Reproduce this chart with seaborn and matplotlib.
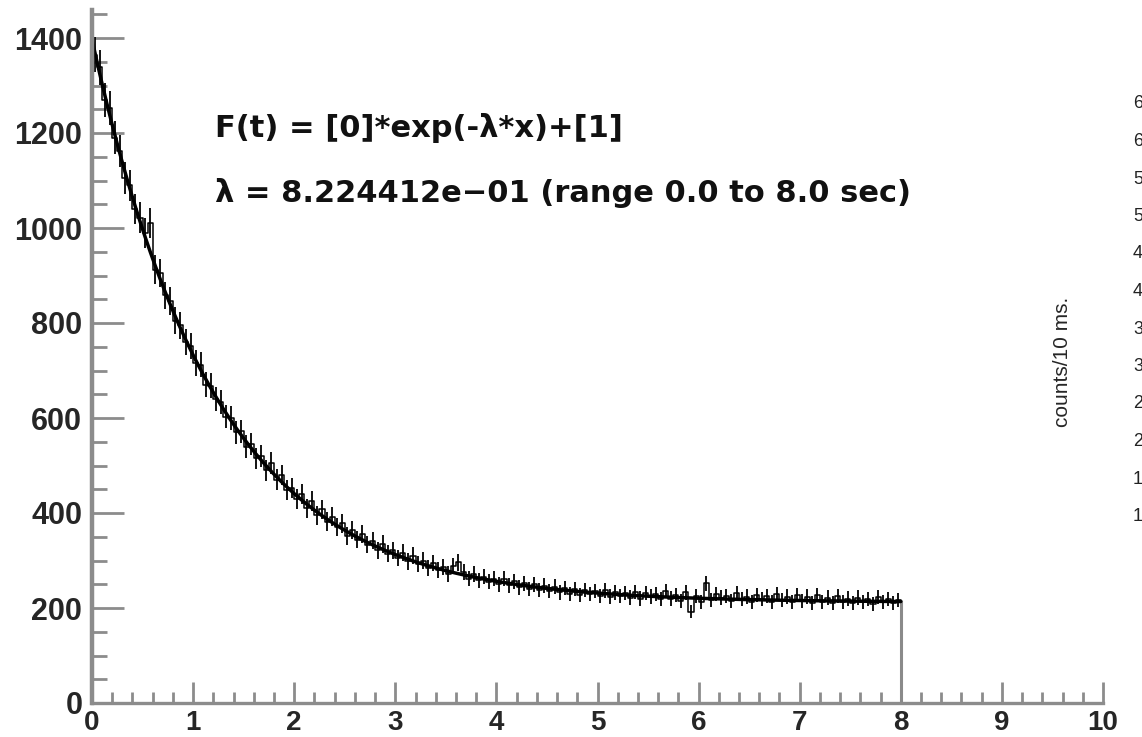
import numpy as np
import pandas as pd
import seaborn as sns
import matplotlib.pyplot as plt
from matplotlib.ticker import MultipleLocator

# Decay histogram: counts per 10 ms, shown in 50 ms steps from 0 to 8 s
bin_width = 0.05
counts = [
    1365, 1338, 1270, 1252, 1190, 1162, 1105, 1090, 1040, 1022,
    990, 1010, 912, 905, 858, 846, 805, 795, 760, 752,
    716, 712, 670, 668, 640, 633, 603, 600, 570, 572,
    540, 545, 515, 520, 490, 505, 470, 480, 448, 452,
    430, 440, 410, 425, 395, 408, 382, 392, 370, 378,
    352, 365, 344, 356, 333, 342, 322, 335, 314, 322,
    305, 316, 298, 310, 292, 300, 285, 294, 280, 287,
    272, 288, 296, 276, 262, 272, 258, 266, 255, 262,
    250, 262, 248, 256, 244, 252, 240, 250, 238, 247,
    236, 245, 233, 242, 230, 240, 228, 238, 229, 236,
    226, 237, 224, 233, 226, 232, 222, 234, 220, 231,
    224, 230, 219, 236, 220, 228, 214, 233, 192, 226,
    212, 252, 216, 230, 222, 225, 214, 232, 218, 224,
    213, 228, 219, 226, 212, 230, 216, 224, 212, 227,
    214, 224, 210, 228, 213, 222, 210, 226, 212, 220,
    210, 222, 212, 219, 209, 223, 213, 218, 210, 216,
]

# Fit F(t) = [0]*exp(-lambda*t) + [1]
lam = 8.224412e-01
amp = 1185.0
offset = 212.0
fit_range = (0.0, 8.0)

x_ticks = list(range(0, 11))
y_ticks = list(range(0, 1401, 200))
side_digits = ["6", "6", "5", "5", "4", "4", "3", "3", "2", "2", "1", "1"]

sns.set_style("ticks")
plt.rcParams["font.family"] = ["Liberation Sans", "DejaVu Sans"]

fig = plt.figure(figsize=(11.42, 7.37), dpi=100)
ax = fig.add_axes([92 / 1142, 1 - 703 / 737, (1103 - 92) / 1142, 693.5 / 737])

counts = np.asarray(counts, dtype=float)
n = len(counts)
edges = np.arange(n + 1) * bin_width
centers = edges[:-1] + bin_width / 2

hist_df = pd.DataFrame({"t": edges, "n": np.append(counts, counts[-1])})
sns.lineplot(data=hist_df, x="t", y="n", drawstyle="steps-post",
             color="black", lw=1.1, ax=ax, estimator=None, sort=False)
err = np.sqrt(counts)
ax.vlines(centers, counts - err, counts + err, color="black", lw=1.3)
ax.vlines(edges[-1], 0, counts[-1], color="#8a8a8a", lw=2.2)

t_fit = np.linspace(fit_range[0], fit_range[1], 500)
fit_df = pd.DataFrame({"t": t_fit, "f": amp * np.exp(-lam * t_fit) + offset})
sns.lineplot(data=fit_df, x="t", y="f", color="black", lw=2.5, ax=ax,
             estimator=None, sort=False)

ax.set_xlim(0, 10)
ax.set_ylim(0, 1460)
ax.set_xlabel("")
ax.set_ylabel("")
ax.set_xticks(x_ticks)
ax.set_yticks(y_ticks)
ax.xaxis.set_minor_locator(MultipleLocator(0.2))
ax.yaxis.set_minor_locator(MultipleLocator(50))

axis_gray = "#8c8c8c"
for side in ("top", "right"):
    ax.spines[side].set_visible(False)
ax.spines["left"].set_color(axis_gray)
ax.spines["left"].set_linewidth(3.2)
ax.spines["bottom"].set_color(axis_gray)
ax.spines["bottom"].set_linewidth(2.4)

ax.tick_params(axis="x", which="major", direction="in", length=15, width=2,
               color=axis_gray, pad=5, labelsize=20)
ax.tick_params(axis="x", which="minor", direction="in", length=8, width=2,
               color=axis_gray)
ax.tick_params(axis="y", which="major", direction="in", length=23, width=2,
               color=axis_gray, pad=7, labelsize=22)
ax.tick_params(axis="y", which="minor", direction="in", length=11, width=2,
               color=axis_gray)
for lab in ax.get_xticklabels() + ax.get_yticklabels():
    lab.set_fontweight("bold")

formula_font = dict(family=["DejaVu Sans"], fontsize=22, fontweight="bold",
                    ha="left", va="baseline", color="#111111")
fig.text(215 / 1142, 1 - 137 / 737, "F(t) = [0]*exp(-\u03bb*x)+[1]",
         **formula_font)
fig.text(215 / 1142, 1 - 202 / 737,
         "\u03bb = 8.224412e\u221201 (range 0.0 to 8.0 sec)", **formula_font)

fig.text(1063 / 1142, 1 - 362 / 737, "counts/10 ms.", rotation=90,
         fontsize=15, ha="center", va="center")
for i, d in enumerate(side_digits):
    fig.text(1133 / 1142, 1 - (104 + 37.5 * i) / 737, d,
             fontsize=13, ha="left", va="center", color="#222222")

fig.savefig("out.png", dpi=100)
